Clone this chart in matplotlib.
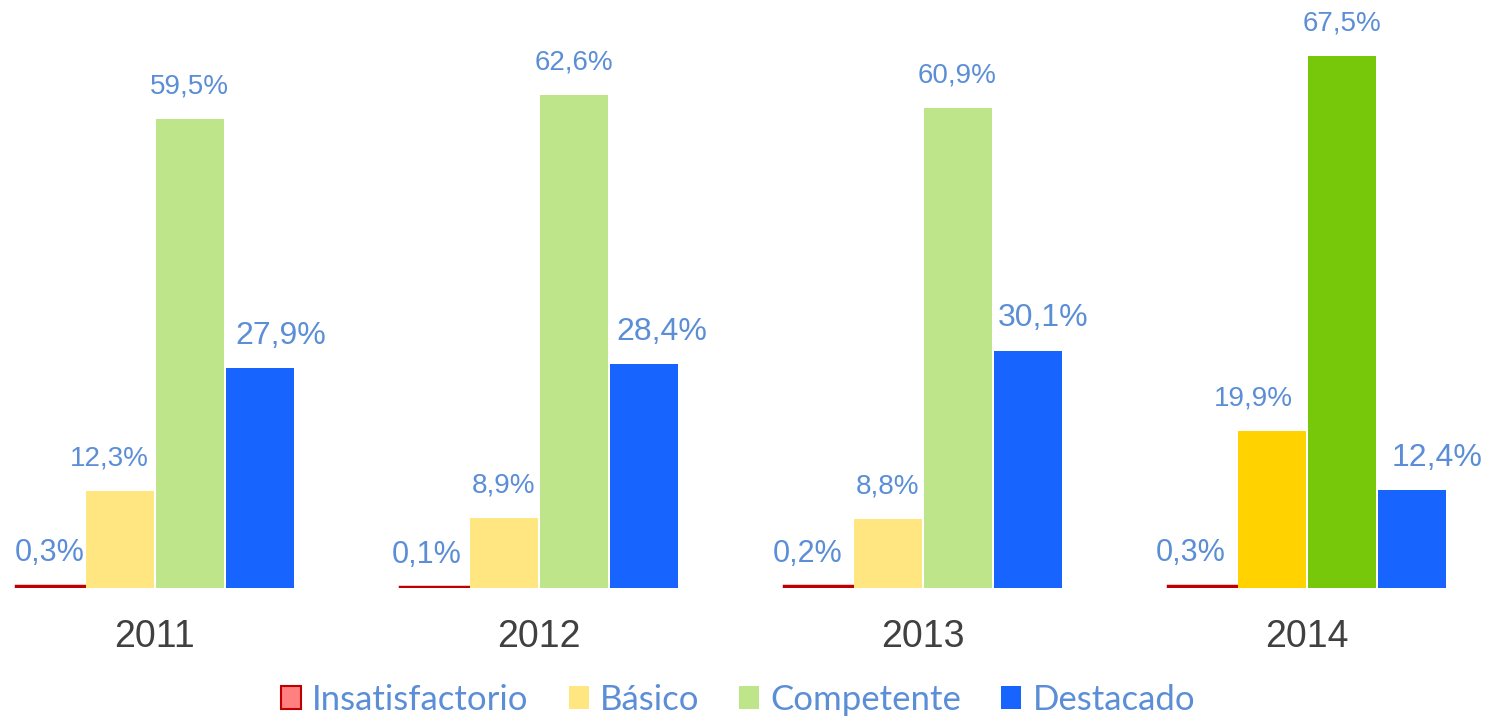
import numpy as np
import matplotlib
matplotlib.use("Agg")
import matplotlib.pyplot as plt
from matplotlib.patches import Patch

years = ["2011", "2012", "2013", "2014"]
levels = ["Insatisfactorio", "Básico", "Competente", "Destacado"]
insatisfactorio = [0.3, 0.1, 0.2, 0.3]
basico = [12.3, 8.9, 8.8, 19.9]
competente = [59.5, 62.6, 60.9, 67.5]
destacado = [27.9, 28.4, 30.1, 12.4]

series = [insatisfactorio, basico, competente, destacado]
# colours per level; 2014 uses the stronger yellow/green
face = ["#FF8080", "#FFE680", "#BEE58A", "#1764FF"]
face_2014 = ["#FF8080", "#FFD200", "#77C80A", "#1764FF"]
edge = ["#C00000", "none", "none", "none"]
label_size = [22, 20, 20, 23]
lab_col = "#5B8ED6"
# horizontal nudge of the value labels (pixels), as in the original slide
nudge = [[0, -7, -10, -11], [-10, 0, 0, -18], [0, 0, 0, 0], [21, 18, 16, 26]]

W, H = 1488, 718
fig = plt.figure(figsize=(W / 100, H / 100), dpi=100)
px = 384.0                      # group spacing in pixels
base_y = 588
ax = fig.add_axes([0, 1 - base_y / H, 1, base_y / H])
ax.set_xlim(-154.5 / px, (W - 154.5) / px)
ax.set_ylim(0, base_y / 7.88)
ax.axis("off")

x = np.arange(len(years))
bw, step = 68 / px, 70 / px
for k, vals in enumerate(series):
    pos = x + (k - 1.5) * step
    cols = [face_2014[k] if y == "2014" else face[k] for y in years]
    ax.bar(pos, vals, width=bw, color=cols,
           edgecolor=edge[k], linewidth=2.5 if k == 0 else 0)
    for i, (xi, v) in enumerate(zip(pos, vals)):
        ax.annotate(f"{v:.1f}%".replace(".", ","), (xi, v),
                    xytext=(nudge[k][i] * 0.72, 23.5),
                    textcoords="offset points", ha="center", va="center",
                    fontsize=label_size[k], color=lab_col, family="Liberation Sans")

for xi, y in zip(x, years):
    ax.annotate(y, (xi, 0), xytext=(0, -35.5), textcoords="offset points",
                ha="center", va="center", fontsize=27, color="#404040",
                family="Liberation Sans")

handles = [Patch(facecolor=face[k], edgecolor=edge[k] if k == 0 else face[k],
                 linewidth=1.5 if k == 0 else 0, label=levels[k]) for k in range(4)]
leg = fig.legend(handles=handles, loc="center", bbox_to_anchor=(738 / W, 1 - 700 / H),
                 ncol=4, frameon=False, handlelength=0.58, handleheight=0.63,
                 handletextpad=0.32, columnspacing=1.15, borderpad=0,
                 prop={"family": "Lato", "size": 25})
for t in leg.get_texts():
    t.set_color(lab_col)

fig.savefig("out.png", dpi=100)
